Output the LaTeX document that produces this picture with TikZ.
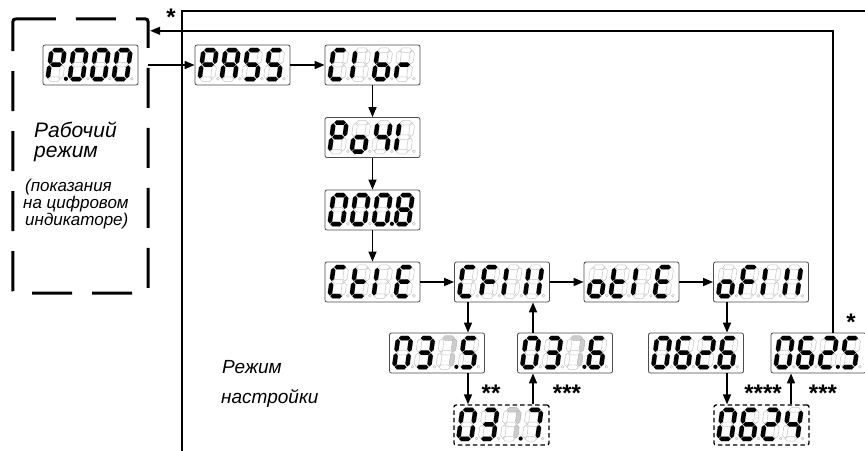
\documentclass[tikz,border=0pt]{standalone}
\usepackage{fontspec}
\setmainfont{Liberation Sans}
\usetikzlibrary{calc,arrows.meta}

% segment lists of the seven-segment glyphs
\def\gZero{a,b,c,d,e,f}
\def\gTwo{a,b,d,e,g}
\def\gThree{a,b,c,d,g}
\def\gFour{b,c,f,g}
\def\gFive{a,c,d,f,g}
\def\gSix{a,c,d,e,f,g}
\def\gSeven{a,b,c}
\def\gEight{a,b,c,d,e,f,g}
\def\gP{a,b,e,f,g}
\def\gA{a,b,c,e,f,g}
\def\gS{a,c,d,f,g}
\def\gC{a,d,e,f}
\def\gI{e,f}
\def\gII{b,c,e,f}
\def\gb{c,d,e,f,g}
\def\gr{e,g}
\def\go{c,d,e,g}
\def\gt{d,e,f,g}
\def\gE{a,d,e,f,g}
\def\gF{a,e,f,g}
\def\gN{n}

% hexagonal segment between the end points (#11) and (#12)
\newcommand\hexseg[2]{%
  \path[#2] (#11) -- ($(#11)!3.1pt!45:(#12)$) -- ($(#12)!3.1pt!-45:(#11)$) -- (#12)
    -- ($(#12)!3.1pt!45:(#11)$) -- ($(#11)!3.1pt!-45:(#12)$) -- cycle;}

\tikzset{
  segon/.style={fill=black},
  segdim/.style={fill=gray!40, draw=gray!55, line width=0.4pt},
  segoff/.style={fill=white, draw=gray!45, line width=0.5pt},
  disp/.style={draw=gray!60!black, line width=0.8pt, rounded corners=2pt,
    minimum width=95pt, minimum height=40pt, inner sep=0pt, fill=white},
  dispdash/.style={disp, draw=black, line width=1.3pt, dash pattern=on 4.5pt off 3pt},
  arr/.style={line width=1.6pt, -{Triangle[length=10pt,width=8pt]}},
  frameline/.style={line width=2pt},
  modeline/.style={line width=3pt, dash pattern=on 40pt off 20pt, rounded corners=3pt},
  biglbl/.style={font=\fontsize{21}{21}\selectfont\itshape, anchor=base west, inner sep=0pt},
  lbl/.style={font=\fontsize{19}{19}\selectfont\itshape, anchor=base west, inner sep=0pt},
  small/.style={font=\fontsize{17}{17}\selectfont\itshape, anchor=base west, inner sep=0pt},
  star/.style={font=\fontsize{24}{24}\selectfont\bfseries, anchor=base, inner sep=0pt},
  pics/digit/.style args={#1/#2/#3}{code={
    \coordinate (BL) at (0,0);
    \coordinate (BR) at (13,0);
    \coordinate (ML) at (2,-14.5);
    \coordinate (MR) at (15,-14.5);
    \coordinate (TL) at (4,-29);
    \coordinate (TR) at (17,-29);
    \coordinate (a1) at ($(TL)!0.7pt!(TR)$); \coordinate (a2) at ($(TR)!0.7pt!(TL)$);
    \coordinate (b1) at ($(TR)!0.7pt!(MR)$); \coordinate (b2) at ($(MR)!0.7pt!(TR)$);
    \coordinate (c1) at ($(MR)!0.7pt!(BR)$); \coordinate (c2) at ($(BR)!0.7pt!(MR)$);
    \coordinate (d1) at ($(BL)!0.7pt!(BR)$); \coordinate (d2) at ($(BR)!0.7pt!(BL)$);
    \coordinate (e1) at ($(ML)!0.7pt!(BL)$); \coordinate (e2) at ($(BL)!0.7pt!(ML)$);
    \coordinate (f1) at ($(TL)!0.7pt!(ML)$); \coordinate (f2) at ($(ML)!0.7pt!(TL)$);
    \coordinate (g1) at ($(ML)!0.7pt!(MR)$); \coordinate (g2) at ($(MR)!0.7pt!(ML)$);
    \foreach \s in {a,b,c,d,e,f,g} {\hexseg{\s}{segoff}}
    \foreach \s in #2 {\if n\s\else\hexseg{\s}{segdim}\fi}
    \foreach \s in #1 {\if n\s\else\hexseg{\s}{segon}\fi}
    \ifnum#3=1 \fill (18.3,-0.3) circle (2.1pt);
    \else \draw[gray!50, line width=0.5pt] (18.3,-0.3) circle (1.4pt); \fi
  }},
}

% four digits inside a display box
\newcommand\fourdigits[5]{%
  \pic at ($(#1.north west)+(5,34.5)$) {digit=#2};
  \pic at ($(#1.north west)+(27,34.5)$) {digit=#3};
  \pic at ($(#1.north west)+(49,34.5)$) {digit=#4};
  \pic at ($(#1.north west)+(71,34.5)$) {digit=#5};
}

\begin{document}
\begin{tikzpicture}[x=1pt, y=-1pt]
  \useasboundingbox (0,0) rectangle (865,450);
  \fill[white] (0,0) rectangle (865,450);

  % working mode block
  \node[minimum width=135pt, minimum height=274pt, inner sep=0pt] (mode) at (80.5,156) {};
  \draw[modeline] (mode.north west) -- (mode.north east) -- (mode.south east)
    -- (mode.south west) -- cycle;

  \node[biglbl] (w1) at (34,137) {Рабочий};
  \node[biglbl] (w2) at (34,157) {режим};
  \node[small] (s1) at (25,191.5) {(показания};
  \node[small] (s2) at (23,208.5) {на цифровом};
  \node[small] (s3) at (25,225.5) {индикаторе)};

  % setup mode frame
  \coordinate (ftop) at (182,11);
  \coordinate (fbot) at (182,455);
  \coordinate (fend) at (870,11);
  \draw[frameline] (fbot) -- (ftop) -- (fend);
  \node[lbl] (r1) at (222,373) {Режим};
  \node[lbl] (r2) at (221,403) {настройки};

  % displays
  \node[disp] (main) at (90.5,65) {};
  \fourdigits{main}{\gP/\gN/1}{\gZero/\gN/0}{\gZero/\gN/0}{\gZero/\gN/0}

  \node[disp] (pass) at (242.5,65) {};
  \fourdigits{pass}{\gP/\gN/0}{\gA/\gN/0}{\gS/\gN/0}{\gS/\gN/0}

  \node[disp] (calib) at (372.5,65) {};
  \fourdigits{calib}{\gC/\gN/0}{\gI/\gN/0}{\gb/\gN/0}{\gr/\gN/0}

  \node[disp] (pohl) at (372.5,137.5) {};
  \fourdigits{pohl}{\gP/\gN/0}{\go/\gN/0}{\gFour/\gN/0}{\gI/\gN/0}

  \node[disp] (eight) at (372.5,210) {};
  \fourdigits{eight}{\gZero/\gN/0}{\gZero/\gN/0}{\gZero/\gN/1}{\gEight/\gN/0}

  \node[disp] (ctie) at (372.5,282) {};
  \fourdigits{ctie}{\gC/\gN/0}{\gt/\gN/0}{\gI/\gN/0}{\gE/\gN/0}

  \node[disp] (cfil) at (502,282) {};
  \fourdigits{cfil}{\gC/\gN/0}{\gF/\gN/0}{\gI/\gN/0}{\gII/\gN/0}

  \node[disp] (otie) at (631.5,282) {};
  \fourdigits{otie}{\go/\gN/0}{\gt/\gN/0}{\gI/\gN/0}{\gE/\gN/0}

  \node[disp] (ofil) at (761,282) {};
  \fourdigits{ofil}{\go/\gN/0}{\gF/\gN/0}{\gI/\gN/0}{\gII/\gN/0}

  \node[disp] (v375) at (437,353) {};
  \fourdigits{v375}{\gZero/\gN/0}{\gThree/\gN/0}{\gN/\gSeven/1}{\gFive/\gN/0}

  \node[disp] (v376) at (565,353) {};
  \fourdigits{v376}{\gZero/\gN/0}{\gThree/\gN/0}{\gN/\gSeven/1}{\gSix/\gN/0}

  \node[disp] (v626) at (696,353) {};
  \fourdigits{v626}{\gZero/\gN/0}{\gSix/\gN/0}{\gTwo/\gN/1}{\gSix/\gN/0}

  \node[disp] (v625) at (818.5,353) {};
  \fourdigits{v625}{\gZero/\gN/0}{\gSix/\gN/0}{\gTwo/\gN/1}{\gFive/\gN/0}

  \node[dispdash] (v377) at (501.5,425) {};
  \fourdigits{v377}{\gZero/\gN/0}{\gThree/\gN/0}{\gN/\gSeven/1}{\gSeven/\gN/0}

  \node[dispdash] (v624) at (761.5,425) {};
  \fourdigits{v624}{\gZero/\gN/0}{\gSix/\gN/0}{\gTwo/\gN/0}{\gFour/\gN/0}

  % connectors
  \draw[arr] (mode.east |- main.east) -- (pass.west);
  \draw[arr] (pass) -- (calib);
  \draw[arr] (calib) -- (pohl);
  \draw[arr] (pohl) -- (eight);
  \draw[arr] (eight) -- (ctie);
  \draw[arr] (ctie) -- (cfil);
  \draw[arr] (cfil) -- (otie);
  \draw[arr] (otie) -- (ofil);
  \draw[arr] ([xshift=-34pt]cfil.south) -- ([xshift=-34pt]cfil.south |- v375.north);
  \draw[arr] ([xshift=31pt]v375.south) -- ([xshift=31pt]v375.south |- v377.north);
  \draw[arr] ([xshift=31.5pt]v377.north) -- ([xshift=31.5pt]v377.north |- v376.south);
  \draw[arr] ([xshift=-32pt]v376.north) -- ([xshift=-32pt]v376.north |- cfil.south);
  \draw[arr] ([xshift=-34pt]ofil.south) -- ([xshift=-34pt]ofil.south |- v626.north);
  \draw[arr] ([xshift=31pt]v626.south) -- ([xshift=31pt]v626.south |- v624.north);
  \draw[arr] ([xshift=29.5pt]v624.north) -- ([xshift=29.5pt]v624.north |- v625.south);
  \draw[arr] ([xshift=14.5pt]v625.north) |- ($(mode.north east)+(2,12)$);

  % footnote marks
  \node[star] (m1) at (171,25) {*};
  \node[star] (m2) at (851,330) {*};
  \node[star] (m3) at (491,401) {**};
  \node[star] (m4) at (567,401) {***};
  \node[star] (m5) at (763,401) {****};
  \node[star] (m6) at (823,401) {***};
\end{tikzpicture}
\end{document}
